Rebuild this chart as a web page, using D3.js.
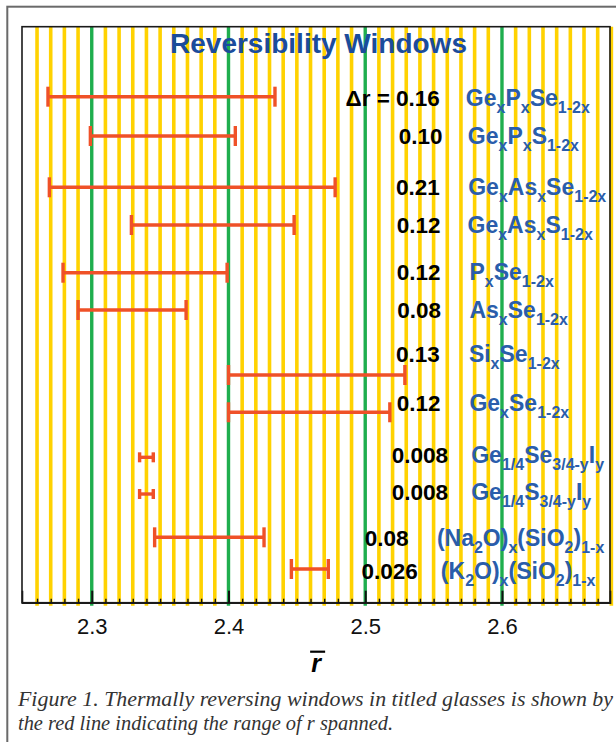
<!DOCTYPE html>
<html>
<head>
<meta charset="utf-8">
<script src="https://cdn.jsdelivr.net/npm/d3@7"></script>
<style>
  html, body { margin: 0; padding: 0; background: #fff; }
  svg { display: block; }
</style>
</head>
<body>
<svg id="chart" width="616" height="742"></svg>
<script>
// ---------------- DATA ----------------
const formulas = [
  "Ge_{x}P_{x}Se_{1-2x}",
  "Ge_{x}P_{x}S_{1-2x}",
  "Ge_{x}As_{x}Se_{1-2x}",
  "Ge_{x}As_{x}S_{1-2x}",
  "P_{x}Se_{1-2x}",
  "As_{x}Se_{1-2x}",
  "Si_{x}Se_{1-2x}",
  "Ge_{x}Se_{1-2x}",
  "Ge_{1/4}Se_{3/4-y}I_{y}",
  "Ge_{1/4}S_{3/4-y}I_{y}",
  "(Na_{2}O)_{x}(SiO_{2})_{1-x}",
  "(K_{2}O)_{x}(SiO_{2})_{1-x}"
];
const deltaLabels = ["\u0394r = 0.16", "0.10", "0.21", "0.12", "0.12", "0.08", "0.13", "0.12", "0.008", "0.008", "0.08", "0.026"];
const windowLow  = [2.268, 2.299, 2.269, 2.329, 2.279, 2.290, 2.400, 2.400, 2.335, 2.335, 2.346, 2.446];
const windowHigh = [2.434, 2.405, 2.478, 2.448, 2.399, 2.369, 2.529, 2.518, 2.345, 2.345, 2.426, 2.473];
const majorTicks = [2.3, 2.4, 2.5, 2.6];
const titleText = "Reversibility Windows";
const axisLabel = "r";
const captionLines = [
  "Figure 1. Thermally reversing windows in titled glasses is shown by",
  "the red line indicating the range of r spanned."
];

// ---------------- LAYOUT ----------------
// vertical slot of each row (percent of plot height) and of its labels
const rowSlot   = [12.15, 18.98, 27.88, 34.43, 42.71, 49.18, 60.47, 66.94, 74.76, 81.13, 88.65, 94.15];
const labelSlot = [13.77, 20.36, 29.22, 35.87, 43.98, 50.52, 58.16, 66.67, 75.69, 82.17, 90.10, 95.94];
// label anchors in r units
const numberEnd    = [2.5546, 2.5565, 2.5546, 2.5550, 2.5550, 2.5555, 2.5546, 2.5550, 2.5605, 2.5605, 2.5317, 2.5385];
const formulaStart = [2.5736, 2.5750, 2.5753, 2.5748, 2.5762, 2.5762, 2.5758, 2.5762, 2.5775, 2.5775, 2.5524, 2.5553];

const W = 616, H = 742;
const plot = { left: 22, right: 610, top: 26.7, bottom: 602.7 };
const SANS = "'Liberation Sans', Arial, Helvetica, sans-serif";
const YELLOW = "#ffd200", GREEN = "#1fae4e", RED = "#ef5128";
const TITLE_BLUE = "#1b4c9c", FORM_BLUE = "#2a5dab";

const svg = d3.select("#chart");

const x = d3.scaleLinear().domain([2.249, 2.679]).range([plot.left, plot.right]);
const y = d3.scaleLinear().domain([0, 100]).range([plot.top, plot.bottom]);

// outer frame
svg.append("rect")
  .attr("x", 7.3).attr("y", 6.7).attr("width", W + 20).attr("height", H + 20)
  .attr("fill", "none").attr("stroke", "#6a6a6a").attr("stroke-width", 2);

// grid lines every 0.01
const gridVals = d3.range(226, 269).map(v => v / 100);
const isMajor = v => Math.abs(v * 10 - Math.round(v * 10)) < 1e-6;
const grid = svg.append("g");
grid.selectAll("line.minor")
  .data(gridVals.filter(v => !isMajor(v)))
  .join("line")
  .attr("x1", d => x(d)).attr("x2", d => x(d))
  .attr("y1", plot.top).attr("y2", plot.bottom + 3)
  .attr("stroke", YELLOW).attr("stroke-width", 3.6);
grid.selectAll("line.major")
  .data(majorTicks)
  .join("line")
  .attr("x1", d => x(d)).attr("x2", d => x(d))
  .attr("y1", plot.top).attr("y2", plot.bottom + 3)
  .attr("stroke", GREEN).attr("stroke-width", 3.4);

// plot frame
svg.append("rect")
  .attr("x", plot.left).attr("y", plot.top)
  .attr("width", plot.right - plot.left).attr("height", plot.bottom - plot.top)
  .attr("fill", "none").attr("stroke", "#1a1a1a").attr("stroke-width", 1.6);

// axes
const minorAxis = d3.axisBottom(x)
  .tickValues(gridVals.filter(v => !isMajor(v) && v < 2.675))
  .tickSize(-4).tickFormat("");
svg.append("g").attr("transform", `translate(0,${plot.bottom})`).call(minorAxis)
  .call(g => g.select(".domain").remove())
  .call(g => g.selectAll("line").attr("stroke", "#111").attr("stroke-width", 1.4));

const majorAxis = d3.axisBottom(x)
  .tickValues(majorTicks).tickSize(-12).tickPadding(16)
  .tickFormat(d3.format(".1f"));
svg.append("g").attr("transform", `translate(0,${plot.bottom})`).call(majorAxis)
  .call(g => g.select(".domain").attr("stroke", "#1a1a1a").attr("stroke-width", 1.6))
  .call(g => g.selectAll("line").attr("stroke", "#111").attr("stroke-width", 2))
  .call(g => g.selectAll("text").attr("font-family", SANS).attr("font-size", 22).attr("fill", "#111"));

// error-bar windows
const rows = formulas.map((f, i) => ({
  formula: f, label: deltaLabels[i], lo: windowLow[i], hi: windowHigh[i],
  slot: rowSlot[i], lslot: labelSlot[i], nx: numberEnd[i], fx: formulaStart[i]
}));

const bars = svg.append("g").attr("stroke", RED).attr("stroke-width", 3.4).attr("fill", "none");
rows.forEach(r => {
  const yy = y(r.slot);
  const cap = (r.hi - r.lo) < 0.02 ? 5 : 10;
  bars.append("line").attr("x1", x(r.lo)).attr("x2", x(r.hi)).attr("y1", yy).attr("y2", yy);
  bars.append("line").attr("x1", x(r.lo)).attr("x2", x(r.lo)).attr("y1", yy - cap).attr("y2", yy + cap);
  bars.append("line").attr("x1", x(r.hi)).attr("x2", x(r.hi)).attr("y1", yy - cap).attr("y2", yy + cap);
});

// numbers
svg.append("g").selectAll("text").data(rows).join("text")
  .attr("x", d => x(d.nx)).attr("y", d => y(d.lslot))
  .attr("text-anchor", "end")
  .attr("font-family", SANS).attr("font-weight", "bold").attr("font-size", 22.5)
  .attr("fill", "#000")
  .text(d => d.label);

// formulas with subscripts
function parseFormula(s) {
  const out = [];
  const re = /_\{([^}]*)\}|([^_]+)/g;
  let m;
  while ((m = re.exec(s)) !== null) {
    if (m[1] !== undefined) out.push({ t: m[1], sub: true });
    else out.push({ t: m[2], sub: false });
  }
  return out;
}
const fg = svg.append("g");
rows.forEach(r => {
  const t = fg.append("text")
    .attr("x", x(r.fx)).attr("y", y(r.lslot))
    .attr("font-family", SANS).attr("font-weight", "bold")
    .attr("fill", FORM_BLUE);
  let cur = 0;
  parseFormula(r.formula).forEach(p => {
    const target = p.sub ? 7 : 0;
    t.append("tspan")
      .attr("font-size", p.sub ? 16 : 23)
      .attr("dy", target - cur)
      .text(p.t);
    cur = target;
  });
});

// title
svg.append("text")
  .attr("x", 318.5).attr("y", 53.3).attr("text-anchor", "middle")
  .attr("font-family", SANS).attr("font-weight", "bold").attr("font-size", 28)
  .attr("fill", TITLE_BLUE)
  .text(titleText);

// axis label r with overbar
const rl = svg.append("text")
  .attr("x", 316).attr("y", 672).attr("text-anchor", "middle")
  .attr("font-family", SANS).attr("font-weight", "bold").attr("font-style", "italic")
  .attr("font-size", 25).attr("fill", "#000")
  .text(axisLabel);
const bb = rl.node().getBBox();
svg.append("line")
  .attr("x1", bb.x - 1).attr("x2", bb.x + bb.width + 3)
  .attr("y1", 651.7).attr("y2", 651.7)
  .attr("stroke", "#000").attr("stroke-width", 2.2);

// caption
const capLengths = [595, 375];
svg.append("g").selectAll("text").data(captionLines).join("text")
  .attr("x", 18).attr("y", (d, i) => 706 + i * 24)
  .attr("font-family", "'Liberation Serif', 'Times New Roman', serif")
  .attr("font-style", "italic").attr("font-size", 21).attr("fill", "#333")
  .attr("textLength", (d, i) => capLengths[i]).attr("lengthAdjust", "spacingAndGlyphs")
  .text(d => d);
</script>
</body>
</html>
